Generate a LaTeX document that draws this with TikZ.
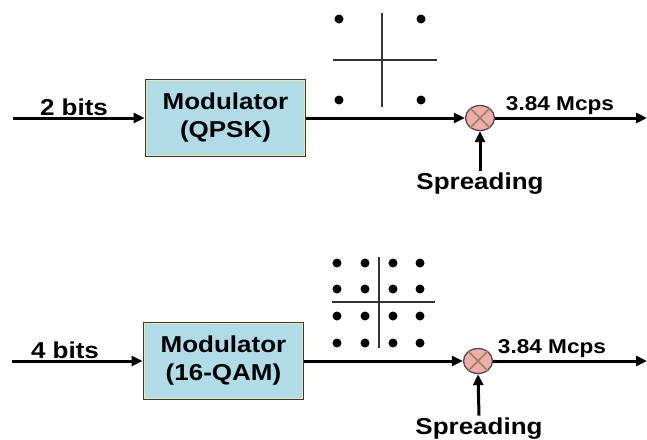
\documentclass[tikz,border=0pt]{standalone}
\usepackage{fontspec}
\setmainfont{Liberation Sans}[FakeStretch=1.13]
\usetikzlibrary{arrows.meta,shapes.geometric}
\definecolor{boxblue}{RGB}{176,220,232}
\definecolor{boxedge}{RGB}{55,55,55}
\definecolor{cream}{RGB}{240,232,170}
\definecolor{mulpink}{RGB}{240,172,172}
\definecolor{xline}{RGB}{150,135,90}
\tikzset{
  big/.style={font=\fontsize{23}{28}\selectfont\bfseries},
  small/.style={font=\fontsize{20}{24}\selectfont\bfseries},
  modbox/.style={draw=boxedge, line width=1.8pt, fill=boxblue, minimum width=160pt,
     minimum height=77pt, inner sep=0pt, align=center, big},
  inner/.style={draw=cream, line width=1.1pt},
  mulnode/.style={ellipse, draw=black!70, line width=1.3pt, fill=mulpink,
     minimum width=29pt, minimum height=25pt, inner sep=0pt},
  sig/.style={line width=3pt, -{Triangle[length=11pt,width=10pt]}},
  txt/.style={anchor=base, inner sep=0pt},
  dotc/.style={fill=black},
  axis/.style={line width=1.4pt, draw=black!80},
}
\begin{document}
\begin{tikzpicture}[x=1pt,y=-1pt]
\useasboundingbox (0,0) rectangle (647,439);
% ---------- top row ----------
\coordinate (in1) at (13,118);
\node[modbox] (m1) at (225.5,118) {Modulator\\(QPSK)};
\draw[inner] ([shift={(2,2)}]m1.north west) rectangle ([shift={(-2,-2)}]m1.south east);
\node[mulnode] (x1) at (480,118) {};
\draw[xline, line width=1.5pt] (x1.45) -- (x1.225) (x1.135) -- (x1.315);
\coordinate (out1) at (647,118);
\node[txt, big] (b1) at (74,115) {2 bits};
\node[txt, small] (r1) at (560,110) {3.84 Mcps};
\node[txt, big, inner sep=1.5pt] (s1) at (480,189) {Spreading};
\draw[sig] (in1) -- (m1.west);
\draw[sig] (m1.east) -- (x1.west);
\draw[sig] (x1.east) -- (out1);
\draw[sig] (s1.north) -- (x1.south);
% QPSK constellation
\draw[axis] (382,13) -- (382,107);
\draw[axis] (333,60) -- (437,60);
\foreach \px in {339,421} \foreach \py in {19,100}
  \fill[dotc] (\px,\py) circle (4.5);
% ---------- bottom row ----------
\coordinate (in2) at (12,361);
\node[modbox] (m2) at (223.5,361) {Modulator\\(16-QAM)};
\draw[inner] ([shift={(2,2)}]m2.north west) rectangle ([shift={(-2,-2)}]m2.south east);
\node[mulnode] (x2) at (478,361) {};
\draw[xline, line width=1.5pt] (x2.45) -- (x2.225) (x2.135) -- (x2.315);
\coordinate (out2) at (647,361);
\node[txt, big] (b2) at (65,358) {4 bits};
\node[txt, small] (r2) at (552,353) {3.84 Mcps};
\node[txt, big, inner sep=1.5pt] (s2) at (479,434) {Spreading};
\draw[sig] (in2) -- (m2.west);
\draw[sig] (m2.east) -- (x2.west);
\draw[sig] (x2.east) -- (out2);
\draw[sig] (s2.north) -- (x2.south);
% 16-QAM constellation
\draw[axis] (379,257) -- (379,348);
\draw[axis] (332,302) -- (435,302);
\foreach \px in {337,365,393,420} \foreach \py in {263,289,316,343}
  \fill[dotc] (\px,\py) circle (4.5);
\end{tikzpicture}
\end{document}
